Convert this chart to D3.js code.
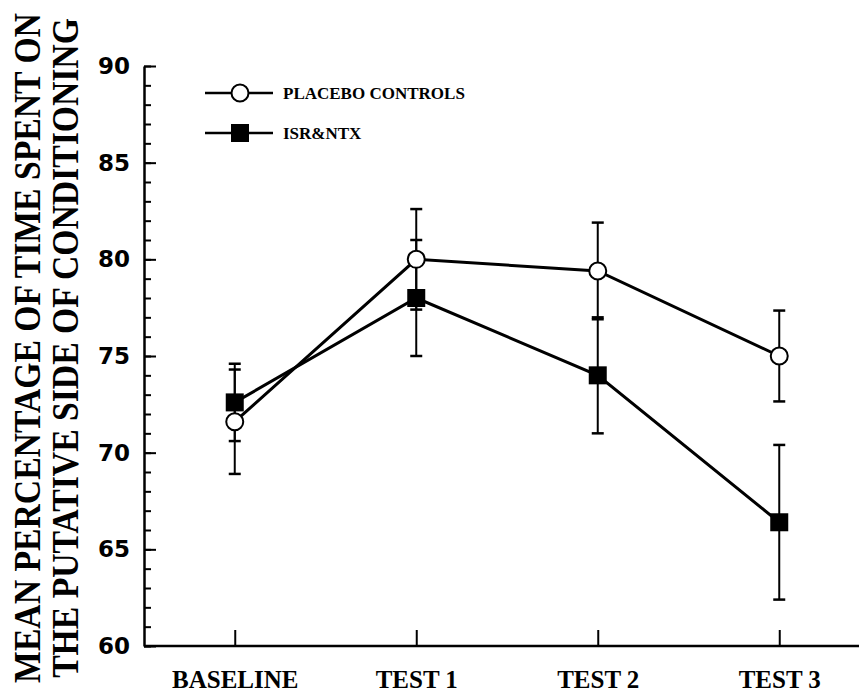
<!DOCTYPE html>
<html>
<head>
<meta charset="utf-8">
<script src="https://cdn.jsdelivr.net/npm/d3@7"></script>
<style>
  body { margin: 0; background: #fff; }
  svg { display: block; }
  .serif { font-family: "Liberation Serif", "DejaVu Serif", serif; font-weight: bold; }
</style>
</head>
<body>
<div id="chart"></div>
<script>
let width = 859,
    height = 694

// data
let sessions = ["BASELINE", "TEST 1", "TEST 2", "TEST 3"]
let placeboMean = [71.6, 80.0, 79.4, 75.0]
let placeboErr = [2.7, 2.6, 2.5, 2.35]
let isrMean = [72.6, 78.0, 74.0, 66.4]
let isrErr = [2.0, 3.0, 3.0, 4.0]
let yTicks = [60, 65, 70, 75, 80, 85, 90]

let margin = { left: 144, top: 66, bottom: 48 }

let svg = d3.select("#chart").append("svg")
  .attr("width", width)
  .attr("height", height)

let x = d3.scalePoint()
  .domain(sessions)
  .range([margin.left, 870])
  .padding(0.5)

let y = d3.scaleLinear()
  .domain([60, 90])
  .range([height - margin.bottom, margin.top])

// minor ticks every unit
svg.append("g")
  .attr("transform", `translate(${margin.left},0)`)
  .call(d3.axisLeft(y).tickValues(d3.range(60, 91, 1)).tickSizeInner(-7).tickSizeOuter(0).tickFormat(""))
  .call(g => g.select(".domain").remove())
  .selectAll("line").attr("stroke-width", 2)

// major y axis
let yAxis = svg.append("g")
  .attr("transform", `translate(${margin.left},0)`)
  .call(d3.axisLeft(y).tickValues(yTicks).tickSizeInner(-12).tickSizeOuter(0).tickPadding(14))
yAxis.select(".domain").attr("stroke-width", 2.5)
yAxis.selectAll("line").attr("stroke-width", 2)
yAxis.selectAll("text")
  .attr("font-family", "DejaVu Sans")
  .attr("font-weight", "bold")
  .attr("font-size", 23)
  .attr("fill", "#000")

// x axis
let xAxis = svg.append("g")
  .attr("transform", `translate(0,${y(60)})`)
  .call(d3.axisBottom(x).tickSizeInner(-16).tickSizeOuter(0))
xAxis.select(".domain").attr("d", `M${margin.left},0H${width}`).attr("stroke-width", 2.5)
xAxis.selectAll("line").attr("stroke-width", 2)
xAxis.selectAll("text")
  .attr("class", "serif")
  .attr("font-size", 25)
  .attr("y", 42)
  .attr("dy", 0)
  .attr("fill", "#000")

// y axis title, two rotated lines squeezed to the plot height
let titleLines = ["MEAN PERCENTAGE OF TIME SPENT ON", "THE PUTATIVE SIDE OF CONDITIONING"]
let titleLen = [670, 660]
svg.selectAll(".ytitle")
  .data(titleLines)
  .enter().append("text")
  .attr("class", "serif ytitle")
  .attr("text-anchor", "middle")
  .attr("font-size", 38)
  .text(d => d)
  .attr("transform", function(d, i) {
    // condense horizontally so the line fits the height of the figure
    let sx = titleLen[i] / this.getComputedTextLength()
    return `translate(${40 + i * 38},${348}) rotate(-90) scale(${sx},1)`
  })

let series = [
  { name: "ISR&NTX", mean: isrMean, err: isrErr, shape: "square" },
  { name: "PLACEBO CONTROLS", mean: placeboMean, err: placeboErr, shape: "circle" }
]

let line = d3.line()
  .x((d, i) => x(sessions[i]))
  .y(d => y(d))

// error bars first so markers sit on top
series.forEach(s => {
  let g = svg.append("g")
  s.mean.forEach((m, i) => {
    let cx = x(sessions[i])
    g.append("line")
      .attr("x1", cx).attr("x2", cx)
      .attr("y1", y(m - s.err[i])).attr("y2", y(m + s.err[i]))
      .attr("stroke", "#000").attr("stroke-width", 2)
    ;[m - s.err[i], m + s.err[i]].forEach(v => {
      g.append("line")
        .attr("x1", cx - 6).attr("x2", cx + 6)
        .attr("y1", y(v)).attr("y2", y(v))
        .attr("stroke", "#000").attr("stroke-width", 2.5)
    })
  })
})

series.forEach(s => {
  svg.append("path")
    .datum(s.mean)
    .attr("d", line)
    .attr("fill", "none")
    .attr("stroke", "#000")
    .attr("stroke-width", 3)
})

function drawMarker(g, shape, cx, cy) {
  if (shape == "circle") {
    g.append("circle")
      .attr("cx", cx).attr("cy", cy).attr("r", 8.5)
      .attr("fill", "#fff").attr("stroke", "#000").attr("stroke-width", 2)
  } else {
    g.append("rect")
      .attr("x", cx - 9).attr("y", cy - 9)
      .attr("width", 18).attr("height", 18)
      .attr("fill", "#000")
  }
}

series.forEach(s => {
  let g = svg.append("g")
  s.mean.forEach((m, i) => drawMarker(g, s.shape, x(sessions[i]), y(m)))
})

// legend
let legend = svg.append("g").attr("transform", "translate(205,93)")
let legendItems = [series[1], series[0]]
legendItems.forEach((s, i) => {
  let g = legend.append("g").attr("transform", `translate(0,${i * 40})`)
  g.append("line")
    .attr("x1", 0).attr("x2", 68)
    .attr("stroke", "#000").attr("stroke-width", 2.5)
  drawMarker(g, s.shape, 35, 0)
  g.append("text")
    .attr("class", "serif")
    .attr("x", 78).attr("y", 6)
    .attr("font-size", 17)
    .text(s.name)
})
</script>
</body>
</html>
